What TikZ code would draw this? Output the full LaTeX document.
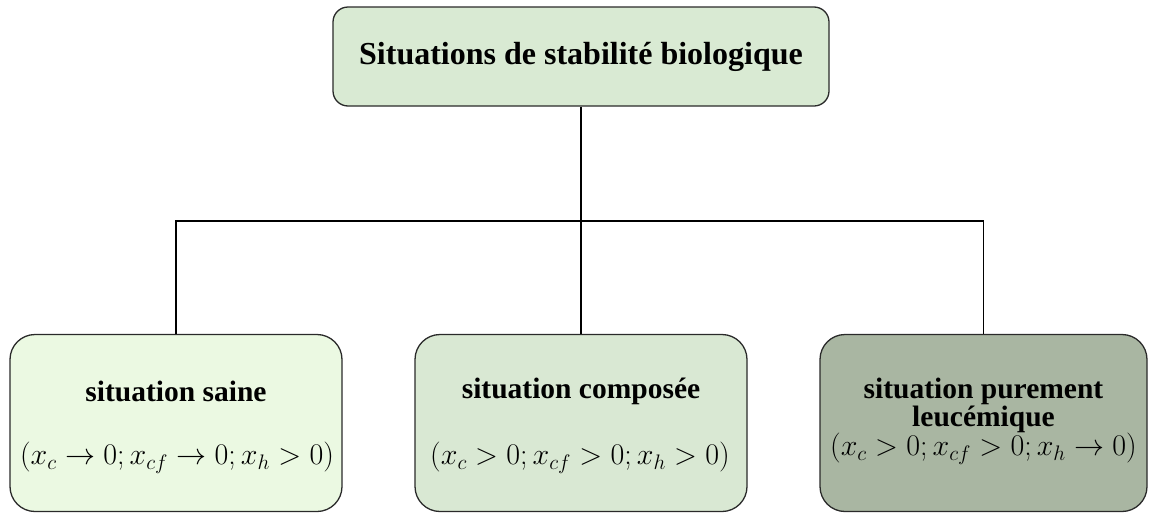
\RequirePackage{fix-cm}
\documentclass[tikz,border=0pt]{standalone}
\usepackage{fontspec}
\setmainfont{Liberation Serif}
\definecolor{topfill}{HTML}{D9EAD3}
\definecolor{saine}{HTML}{EBF9E2}
\definecolor{compo}{HTML}{D9E8D3}
\definecolor{leuc}{HTML}{A9B6A2}
\definecolor{edge}{HTML}{2A2A2A}
\tikzset{
  box/.style={draw=edge, line width=1.3pt, rounded corners=#1, inner sep=0pt},
  ttl/.style={font=\fontsize{29.5}{30}\selectfont\bfseries, align=center, inner sep=0pt},
  cond/.style={font=\fontsize{30}{32}\selectfont, inner sep=0pt},
  link/.style={draw=black, line width=1.1pt}
}
\begin{document}
\begin{tikzpicture}[x=1pt,y=-1pt]
\useasboundingbox (0,0) rectangle (1151,512);
\node[box=15pt, fill=topfill, minimum width=496pt, minimum height=99pt] (top) at (581,56.5) {};
\node[font=\fontsize{32}{34}\selectfont\bfseries, inner sep=0pt] (toptxt) at (581,57) {Situations de stabilité biologique};

\node[box=25pt, fill=saine, minimum width=332pt, minimum height=177pt] (b1) at (176,423) {};
\node[box=25pt, fill=compo, minimum width=332pt, minimum height=177pt] (b2) at (581,423) {};
\node[box=25pt, fill=leuc, minimum width=327pt, minimum height=177pt] (b3) at (983.5,423) {};

\node[ttl] (t1) at (176,391) {situation saine};
\node[cond] (c1) at (177,458) {$(x_c \to 0; x_{cf} \to 0; x_h > 0)$};
\node[ttl] (t2) at (581,391) {situation composée};
\node[cond] (c2) at (580,458) {$(x_c > 0; x_{cf} > 0; x_h > 0)$};
\node[ttl] (t3a) at (983.5,391) {situation purement};
\node[ttl] (t3b) at (983.5,419) {leucémique};
\node[cond] (c3) at (983.5,449) {$(x_c > 0; x_{cf} > 0; x_h \to 0)$};

\coordinate (hub) at (581,221);
\draw[link] (top.south) -- (hub);
\draw[link] (b1.north) |- (hub) -| (b3.north);
\draw[link] (hub) -- (b2.north);
\end{tikzpicture}
\end{document}
